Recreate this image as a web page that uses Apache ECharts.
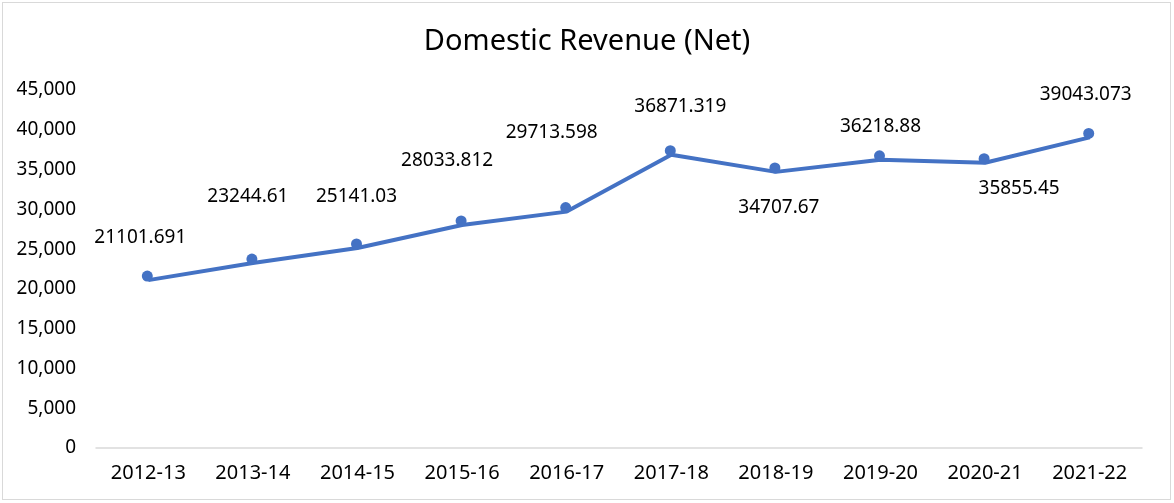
<!DOCTYPE html>
<html>
<head>
<meta charset="utf-8">
<script src="https://cdn.jsdelivr.net/npm/echarts@6/dist/echarts.min.js"></script>
<style>
  html, body { margin: 0; padding: 0; background: #fff; }
  #chart { width: 1174px; height: 503px; }
  .frame {
    position: absolute; left: 2px; top: 2px;
    width: 1167px; height: 496px;
    border: 1px solid #d9d9d9; pointer-events: none;
  }
</style>
</head>
<body>
<div id="chart"></div>
<div class="frame"></div>
<script>
// 年度
const years = ['2012-13', '2013-14', '2014-15', '2015-16', '2016-17',
  '2017-18', '2018-19', '2019-20', '2020-21', '2021-22']
// 国内收入（净额）
const revenue = [21101.691, 23244.61, 25141.03, 28033.812, 29713.598,
  36871.319, 34707.67, 36218.88, 35855.45, 39043.073]
// 数据标签的偏移（手动拖动过的标签位置）
const labelOffsets = [[-7, -39], [-4, -62], [0, -47], [-14, -60], [-14, -75],
  [10, -44], [4, 40], [1, -29], [35, 30], [-3, -39]]

const font = 'Noto Sans'
const chart = echarts.init(document.getElementById('chart'))

const option = {
  animation: false,
  title: {
    text: 'Domestic Revenue (Net)',
    left: 'center',
    top: 22,
    textStyle: { fontFamily: font, fontSize: 29, fontWeight: 'normal', color: '#000' }
  },
  grid: { left: 96, right: 32, top: 90, bottom: 55 },
  xAxis: {
    type: 'category',
    data: years,
    axisLine: { lineStyle: { color: '#d9d9d9', width: 1.5 } },
    axisTick: { show: false },
    axisLabel: { fontFamily: font, fontSize: 20, color: '#000', margin: 15 }
  },
  yAxis: {
    type: 'value',
    min: 0,
    max: 45000,
    interval: 5000,
    splitLine: { show: false },
    axisLine: { show: false },
    axisTick: { show: false },
    axisLabel: {
      fontFamily: font, fontSize: 19, color: '#000', margin: 20,
      formatter: v => v.toLocaleString('en-US')
    }
  },
  series: [
    {
      type: 'line',
      data: revenue.map((v, i) => ({
        value: v,
        label: { offset: labelOffsets[i] }
      })),
      symbol: 'circle',
      symbolSize: 11,
      symbolOffset: [-1, -4],
      lineStyle: { color: '#4472C4', width: 4 },
      itemStyle: { color: '#4472C4' },
      label: {
        show: true,
        position: 'inside',
        fontFamily: font,
        fontSize: 19,
        color: '#000',
        formatter: p => String(p.value)
      }
    }
  ]
}

chart.setOption(option)
</script>
</body>
</html>
